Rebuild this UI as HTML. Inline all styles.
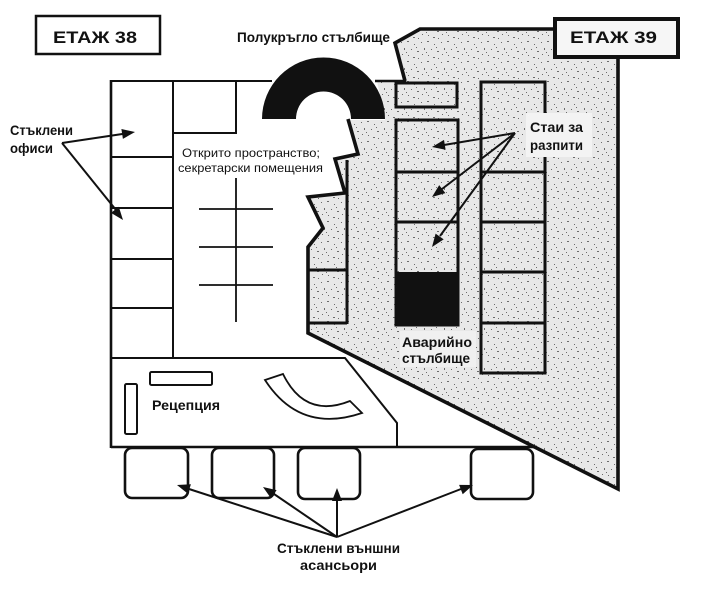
<!DOCTYPE html>
<html><head><meta charset="utf-8"><style>
html,body{margin:0;padding:0;background:#fff;}
svg{display:block;}
text{font-family:"Liberation Sans","DejaVu Sans",sans-serif;fill:#111;}
</style></head><body>
<svg width="706" height="595" viewBox="0 0 706 595" xmlns="http://www.w3.org/2000/svg">
<defs>
<pattern id="st" width="20" height="20" patternUnits="userSpaceOnUse">
<rect width="20" height="20" fill="#e8e8e8"/>
<g fill="#6a6a6a">
<rect x="1" y="2" width="1" height="1"/><rect x="7" y="1" width="2" height="1"/>
<rect x="14" y="4" width="1" height="1"/><rect x="4" y="8" width="1" height="2"/>
<rect x="11" y="9" width="1" height="1"/><rect x="17" y="11" width="2" height="1"/>
<rect x="2" y="14" width="1" height="1"/><rect x="8" y="15" width="1" height="1"/>
<rect x="13" y="17" width="2" height="1"/><rect x="18" y="18" width="1" height="1"/>
<rect x="16" y="7" width="1" height="1"/><rect x="6" y="12" width="1" height="1"/>
</g>
</pattern>
</defs>

<!-- FLOOR 39 gray area -->
<path d="M420,30 L556,30 L556,57 L618,57 L618,488 L308,333 L308,247 L323,228 L308,197 L345,193 L335,159 L358,154 L348,120 L385,120 L377,81 L405,81 L395,43 Z" fill="url(#st)"/>

<!-- FLOOR 38 walls -->
<g stroke="#111" fill="none" stroke-width="2">
<path d="M111,80 V448" stroke-width="2.6"/>
<path d="M110,81 H272"/>
<path d="M375,81 H406" stroke-width="2.5"/>
<path d="M173,81 V358"/>
<path d="M111,157 H173 M111,208 H173 M111,259 H173 M111,308 H173"/>
<path d="M173,133 H236 V81"/>
<path d="M111,358 H345 L397,423 V447"/>
<path d="M111,447 H537" stroke-width="2.4"/>
<path d="M236,178 V322" stroke-width="1.8"/>
<path d="M199,209 H273 M199,247 H273 M199,285 H273" stroke-width="1.8"/>
<rect x="150" y="372" width="62" height="13" rx="1.5"/>
<rect x="125" y="384" width="12" height="50" rx="1.5"/>
<path d="M265,380 Q300,434 362,413 L350,401 Q305,419 283,374 Z" stroke-width="1.8"/>
</g>

<!-- Semicircular stair -->
<path d="M262,119 A61.5,61.5 0 0 1 385,119 L351,119 A27.5,27.5 0 0 0 296,119 Z" fill="#111"/>

<!-- FLOOR 39 outline -->
<g stroke="#111" fill="none" stroke-width="3.6" stroke-linejoin="miter">
<path d="M405,81 L395,43 L420,29 L556,29"/>
<path d="M618,56 L618,489 L308,333 L308,247 L323,228 L308,197 L345,193 L335,159 L358,154 L348,119"/>
</g>

<!-- FLOOR 39 rooms -->
<g stroke="#111" fill="none" stroke-width="3">
<rect x="396" y="83" width="61" height="24"/>
<path d="M347,160 V324 M308,270 H347 M308,323 H347"/>
<path d="M396,120 H458 V325 H396 Z"/>
<path d="M396,172 H458 M396,222 H458"/>
<path d="M481,82 H545 V373 H481 Z"/>
<path d="M481,172 H545 M481,222 H545 M481,272 H545 M481,323 H545"/>
</g>
<rect x="396" y="272" width="62" height="53" fill="#111"/>

<!-- label backgrounds -->
<rect x="526" y="113" width="66" height="44" fill="#f3f3f3"/>
<rect x="400" y="331" width="76" height="36" fill="#f0f0f0"/>

<!-- ETAZH boxes -->
<rect x="36" y="16" width="124" height="38" fill="#fff" stroke="#111" stroke-width="2.5"/>
<text x="53" y="43" font-size="17" font-weight="bold" textLength="84" lengthAdjust="spacingAndGlyphs">ЕТАЖ 38</text>
<rect x="555" y="19" width="123" height="38" fill="#f6f6f6" stroke="#111" stroke-width="4"/>
<text x="570" y="43" font-size="17" font-weight="bold" textLength="87" lengthAdjust="spacingAndGlyphs">ЕТАЖ 39</text>

<!-- arrows -->
<g stroke="#111" stroke-width="2" fill="none">
<path d="M62,143 L124,133.7"/>
<path d="M62,143 L116,210"/>
<path d="M515,133 L444,145"/>
<path d="M515,133 L442,189"/>
<path d="M515,133 L440,236"/>
<path d="M337,537 L189,489"/>
<path d="M337,537 L274,494"/>
<path d="M337,537 L337,500"/>
<path d="M337,537 L461,489"/>
</g>
<g fill="#111">
<polygon points="135,132 122.9,138.9 121.4,129.0"/>
<polygon points="123,220 111.0,212.9 118.8,206.7"/>
<polygon points="432,147 444.0,139.9 445.6,149.7"/>
<polygon points="432,197 439.2,185.1 445.4,193.1"/>
<polygon points="432,247 443.7,239.4 435.6,233.6"/>
<polygon points="177,485 190.9,484.2 187.9,493.8"/>
<polygon points="263,487 276.6,490.1 271.0,498.4"/>
<polygon points="337,488 332,501 342,501"/>
<polygon points="473,485 462.7,494.3 459.1,484.9"/>
</g>

<!-- Elevators -->
<g stroke="#111" fill="none" stroke-width="2.6">
<rect x="125" y="448" width="63" height="50" rx="7"/>
<rect x="212" y="448" width="62" height="50" rx="7"/>
<rect x="298" y="448" width="62" height="51" rx="7"/>
<rect x="471" y="449" width="62" height="50" rx="7"/>
</g>

<!-- Labels -->
<text x="237" y="42" font-size="14" font-weight="bold" textLength="153" lengthAdjust="spacingAndGlyphs">Полукръгло стълбище</text>
<text x="10" y="135" font-size="14" font-weight="bold" textLength="63" lengthAdjust="spacingAndGlyphs">Стъклени</text>
<text x="10" y="153" font-size="14" font-weight="bold" textLength="43" lengthAdjust="spacingAndGlyphs">офиси</text>
<text x="182" y="157" font-size="12" textLength="138" lengthAdjust="spacingAndGlyphs">Открито пространство;</text>
<text x="178" y="172" font-size="12" textLength="145" lengthAdjust="spacingAndGlyphs">секретарски помещения</text>
<text x="530" y="132" font-size="14" font-weight="bold" textLength="53" lengthAdjust="spacingAndGlyphs">Стаи за</text>
<text x="530" y="150" font-size="14" font-weight="bold" textLength="53" lengthAdjust="spacingAndGlyphs">разпити</text>
<text x="402" y="347" font-size="14" font-weight="bold" textLength="70" lengthAdjust="spacingAndGlyphs">Аварийно</text>
<text x="402" y="363" font-size="14" font-weight="bold" textLength="68" lengthAdjust="spacingAndGlyphs">стълбище</text>
<text x="152" y="410" font-size="14" font-weight="bold" textLength="68" lengthAdjust="spacingAndGlyphs">Рецепция</text>
<text x="277" y="553" font-size="14" font-weight="bold" textLength="123" lengthAdjust="spacingAndGlyphs">Стъклени външни</text>
<text x="300" y="570" font-size="14" font-weight="bold" textLength="77" lengthAdjust="spacingAndGlyphs">асансьори</text>
</svg>
</body></html>
